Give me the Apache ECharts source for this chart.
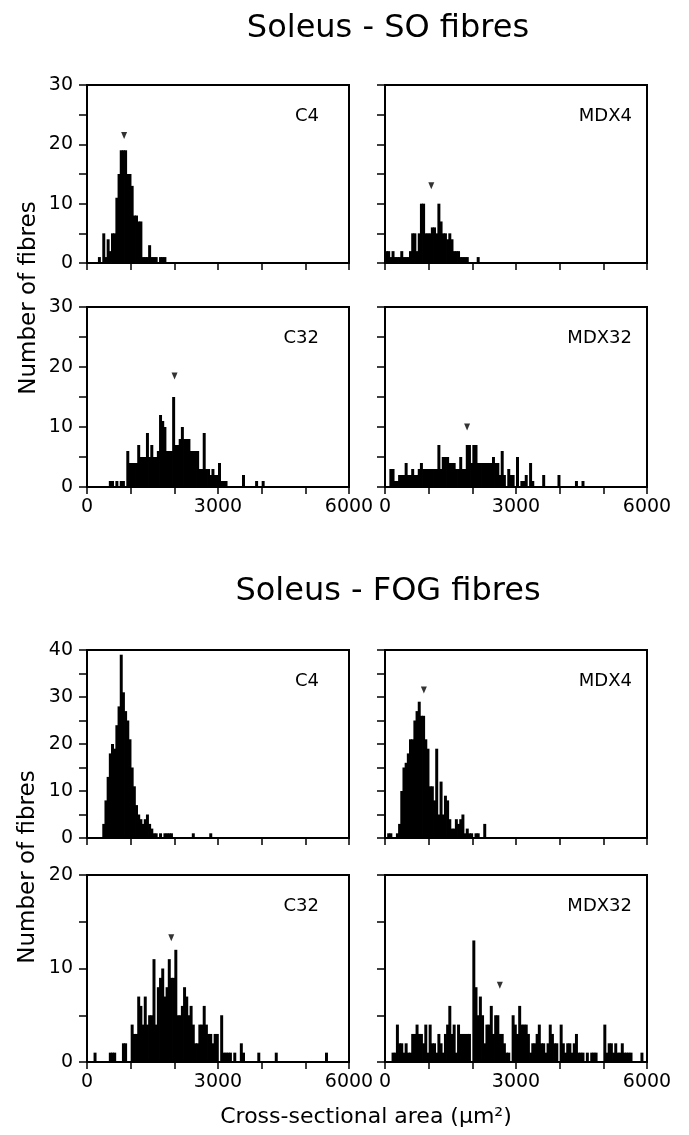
<!DOCTYPE html>
<html><head><meta charset="utf-8">
<script src="https://cdn.jsdelivr.net/npm/echarts@6/dist/echarts.min.js"></script>
<style>html,body{margin:0;padding:0;background:#fff}#c{width:689px;height:1135px}</style>
</head><body><div id="c"></div>
<script>
// ---------------- DATA ----------------
const BIN = 50; // bin width (µm²)
const groupTitles = ['Soleus - SO fibres', 'Soleus - FOG fibres'];
const panelNames = ['C4', 'MDX4', 'C32', 'MDX32', 'C4', 'MDX4', 'C32', 'MDX32'];
const xTickLabels = [0, 3000, 6000];
const yAxisMax = [30, 30, 30, 30, 40, 40, 20, 20];
const yAxisTitle = 'Number of fibres';
const xAxisTitle = 'Cross-sectional area (\u03bcm\u00b2)';

// [bin start, count]
const soC4 = [[250,1],[350,5],[400,1],[450,4],[500,2],[550,5],[600,5],[650,11],[700,15],[750,19],[800,19],[850,19],[900,15],[950,15],[1000,13],[1050,8],[1100,8],[1150,7],[1200,7],[1250,1],[1300,1],[1350,1],[1400,3],[1450,1],[1500,1],[1550,1],[1650,1],[1700,1],[1750,1]];
const soMDX4 = [[0,2],[50,2],[100,1],[150,2],[200,1],[250,1],[300,1],[350,2],[400,1],[450,1],[500,1],[550,2],[600,5],[650,5],[700,2],[750,5],[800,10],[850,10],[900,5],[950,5],[1000,5],[1050,6],[1100,6],[1150,5],[1200,10],[1250,7],[1300,5],[1350,5],[1400,4],[1450,5],[1500,4],[1550,2],[1600,2],[1650,2],[1700,1],[1750,1],[1800,1],[1850,1],[2100,1]];
const soC32 = [[500,1],[550,1],[650,1],[750,1],[800,1],[900,6],[950,4],[1000,4],[1050,4],[1100,4],[1150,7],[1200,5],[1250,5],[1300,5],[1350,9],[1400,5],[1450,7],[1500,5],[1550,5],[1600,6],[1650,12],[1700,11],[1750,10],[1800,6],[1850,6],[1900,6],[1950,15],[2000,7],[2050,7],[2100,8],[2150,10],[2200,8],[2250,8],[2300,8],[2350,6],[2400,6],[2450,6],[2500,6],[2550,3],[2600,3],[2650,9],[2700,3],[2750,3],[2800,2],[2850,3],[2900,2],[2950,2],[3000,4],[3050,1],[3100,1],[3150,1],[3550,2],[3850,1],[4000,1]];
const soMDX32 = [[100,3],[150,3],[200,1],[250,1],[300,2],[350,2],[400,2],[450,4],[500,2],[550,2],[600,3],[650,2],[700,2],[750,3],[800,4],[850,3],[900,3],[950,3],[1000,3],[1050,3],[1100,3],[1150,3],[1200,7],[1250,3],[1300,5],[1350,5],[1400,5],[1450,4],[1500,4],[1550,4],[1600,3],[1650,3],[1700,5],[1750,3],[1800,3],[1850,7],[1900,7],[1950,4],[2000,7],[2050,7],[2100,4],[2150,4],[2200,4],[2250,4],[2300,4],[2350,4],[2400,4],[2450,5],[2500,4],[2550,4],[2600,2],[2650,6],[2700,2],[2800,3],[2850,2],[2900,2],[3000,5],[3100,1],[3150,1],[3200,2],[3300,4],[3350,1],[3600,2],[3950,2],[4350,1],[4500,1]];
const fogC4 = [[350,3],[400,8],[450,13],[500,18],[550,20],[600,19],[650,24],[700,28],[750,39],[800,31],[850,27],[900,25],[950,21],[1000,15],[1050,11],[1100,7],[1150,5],[1200,4],[1250,3],[1300,4],[1350,5],[1400,3],[1450,2],[1500,1],[1550,1],[1650,1],[1750,1],[1800,1],[1850,1],[1900,1],[2400,1],[2800,1]];
const fogMDX4 = [[50,1],[100,1],[250,1],[300,3],[350,10],[400,15],[450,16],[500,18],[550,21],[600,21],[650,25],[700,27],[750,29],[800,26],[850,26],[900,21],[950,19],[1000,11],[1050,11],[1100,8],[1150,19],[1200,5],[1250,12],[1300,5],[1350,9],[1400,8],[1450,4],[1500,2],[1550,2],[1600,4],[1650,3],[1700,4],[1750,5],[1800,1],[1850,2],[1900,1],[1950,1],[2050,1],[2100,1],[2250,3]];
const fogC32 = [[150,1],[500,1],[550,1],[600,1],[800,2],[850,2],[1000,4],[1050,3],[1100,3],[1150,7],[1200,6],[1250,4],[1300,7],[1350,4],[1400,5],[1450,5],[1500,11],[1550,4],[1600,8],[1650,9],[1700,10],[1750,7],[1800,8],[1850,11],[1900,9],[1950,9],[2000,12],[2050,5],[2100,5],[2150,6],[2200,8],[2250,7],[2300,5],[2350,6],[2400,4],[2450,2],[2500,2],[2550,4],[2600,4],[2650,6],[2700,4],[2750,3],[2800,3],[2850,2],[2900,3],[2950,3],[3050,5],[3100,1],[3150,1],[3200,1],[3250,1],[3350,1],[3500,2],[3550,1],[3900,1],[4300,1],[5450,1]];
const fogMDX32 = [[150,1],[200,1],[250,4],[300,2],[350,2],[400,1],[450,2],[500,1],[550,1],[600,3],[650,3],[700,4],[750,3],[800,3],[850,2],[900,4],[950,1],[1000,4],[1050,2],[1100,2],[1150,1],[1200,3],[1250,2],[1300,1],[1350,3],[1400,4],[1450,6],[1500,3],[1550,4],[1600,1],[1650,4],[1700,3],[1750,3],[1800,3],[1850,3],[1900,3],[2000,13],[2050,8],[2100,5],[2150,7],[2200,5],[2250,2],[2300,4],[2350,4],[2400,6],[2450,3],[2500,5],[2550,5],[2600,3],[2650,3],[2700,2],[2750,1],[2800,1],[2900,5],[2950,4],[3000,3],[3050,6],[3100,4],[3150,4],[3200,4],[3250,3],[3300,1],[3350,2],[3400,2],[3450,3],[3500,4],[3550,2],[3600,2],[3650,1],[3700,2],[3750,4],[3800,3],[3850,2],[3900,2],[4000,4],[4050,2],[4100,1],[4150,2],[4200,2],[4250,1],[4300,2],[4350,3],[4400,1],[4450,1],[4500,1],[4600,1],[4700,1],[4750,1],[4800,1],[5000,4],[5050,1],[5100,2],[5150,2],[5200,1],[5250,2],[5300,1],[5350,1],[5400,2],[5450,1],[5500,1],[5550,1],[5600,1],[5850,1]];

// mean markers [area, height] (null = not visible)
const meanMarkers = [[850,21.5],[1060,13],[2005,18.5],[1880,10],null,[890,31.5],[1930,13.3],[2630,8.2]];

const panelData = [soC4, soMDX4, soC32, soMDX32, fogC4, fogMDX4, fogC32, fogMDX32];

// ---------------- LAYOUT ----------------
const colLeft = [87, 385];
const panelW = 262;
const rowTop = [85, 307, 650, 875];
const rowH = [178, 180, 188, 187];
const FONT = 'DejaVu Sans';

const grids = [], xAxes = [], yAxes = [], series = [], graphics = [];
function histRender(params, api) {
  const x0 = api.value(0), y = api.value(1);
  const p0 = api.coord([x0, y]);
  const p1 = api.coord([x0 + BIN, 0]);
  return { type: 'rect', shape: { x: p0[0], y: p0[1], width: p1[0] - p0[0] + 0.8, height: p1[1] - p0[1] },
           style: { fill: '#000' } };
}
for (let i = 0; i < 8; i++) {
  const r = Math.floor(i / 2), c = i % 2;
  grids.push({ left: colLeft[c], top: rowTop[r], width: panelW, height: rowH[r],
    show: true, borderColor: '#000', borderWidth: 2, backgroundColor: 'transparent' });
  const bottomRow = (r === 1 || r === 3);
  xAxes.push({ gridIndex: i, type: 'value', min: 0, max: 6000, interval: 1000,
    axisLine: { show: true, onZero: false, lineStyle: { color: '#000', width: 2 } },
    axisTick: { show: true, length: 7, lineStyle: { color: '#000', width: 1.5 } },
    splitLine: { show: false },
    axisLabel: { show: bottomRow, margin: 11, color: '#000', fontSize: 19, fontFamily: FONT,
      formatter: v => xTickLabels.indexOf(v) >= 0 ? String(v) : '' } });
  yAxes.push({ gridIndex: i, type: 'value', min: 0, max: yAxisMax[i], interval: 5,
    axisLine: { show: true, lineStyle: { color: '#000', width: 2 } },
    axisTick: { show: true, length: 8, lineStyle: { color: '#000', width: 1.5 } },
    splitLine: { show: false },
    axisLabel: { show: c === 0, margin: 14, color: '#000', fontSize: 19, fontFamily: FONT,
      formatter: v => v % 10 === 0 ? String(v) : '' } });
  series.push({ type: 'custom', xAxisIndex: i, yAxisIndex: i, data: panelData[i],
    renderItem: histRender, clip: true, silent: true });
  if (meanMarkers[i]) {
    series.push({ type: 'scatter', xAxisIndex: i, yAxisIndex: i, data: [meanMarkers[i]],
      symbol: 'triangle', symbolRotate: 180, symbolSize: [6, 7], itemStyle: { color: '#000' }, silent: true });
  }
  const labRight = c === 0 ? 30 : 15;
  graphics.push({ type: 'text', x: colLeft[c] + panelW - labRight, y: rowTop[r] + 31,
    style: { text: panelNames[i], textAlign: 'right', textVerticalAlign: 'middle',
      font: '18px "' + FONT + '"', fill: '#000' } });
}
graphics.push({ type: 'text', x: 388, y: 29,
  style: { text: groupTitles[0], textAlign: 'center', textVerticalAlign: 'middle', font: '32px "' + FONT + '"', fill: '#000' } });
graphics.push({ type: 'text', x: 388, y: 592,
  style: { text: groupTitles[1], textAlign: 'center', textVerticalAlign: 'middle', font: '32px "' + FONT + '"', fill: '#000' } });
graphics.push({ type: 'text', x: 29, y: 298, rotation: Math.PI / 2,
  style: { text: yAxisTitle, textAlign: 'center', textVerticalAlign: 'middle', font: '23px "' + FONT + '"', fill: '#000' } });
graphics.push({ type: 'text', x: 28, y: 867, rotation: Math.PI / 2,
  style: { text: yAxisTitle, textAlign: 'center', textVerticalAlign: 'middle', font: '23px "' + FONT + '"', fill: '#000' } });
graphics.push({ type: 'text', x: 366, y: 1117,
  style: { text: xAxisTitle, textAlign: 'center', textVerticalAlign: 'middle', font: '22px "' + FONT + '"', fill: '#000' } });

const chart = echarts.init(document.getElementById('c'), null, { renderer: 'canvas' });
chart.setOption({ animation: false, backgroundColor: '#fff', grid: grids, xAxis: xAxes, yAxis: yAxes, series: series, graphic: graphics });
</script></body></html>
